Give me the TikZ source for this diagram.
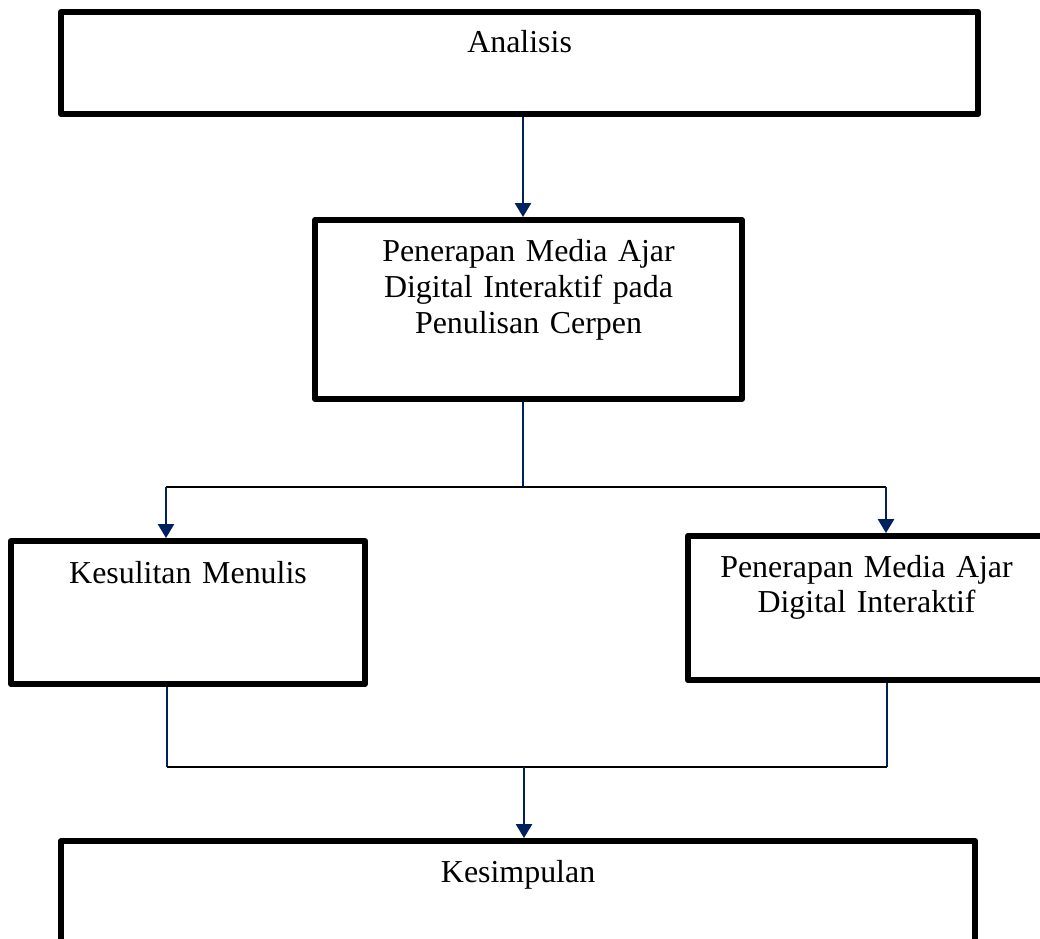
\documentclass[tikz,border=0pt]{standalone}
\usepackage{fontspec}
\setmainfont{Liberation Serif}
\definecolor{FlowNavy}{HTML}{002060}
\usetikzlibrary{arrows.meta, positioning}

\begin{document}
\begin{tikzpicture}[x=0.025cm, y=-0.025cm,
   box/.style={draw, line width=4.25pt, line join=round, anchor=north west,
      inner sep=0pt, align=center, font=\fontsize{22.7}{25.5}\selectfont},
   link/.style={FlowNavy, line width=1pt},
   hline/.style={black, line width=1pt},
   flow/.style={link, -{Triangle[width=11.5pt, length=9.8pt]}}]
   \path[use as bounding box, fill=white] (0,0) rectangle (1040,939);
   % Boxes
   \node[box, text width=22.925cm, text height=1.025cm, text depth=1.525cm] (analisis) at (58,9) {Analisis};
   \node[box, text width=10.675cm, text height=1.05cm, text depth=3.425cm] (media) at (312,217)
      {Penerapan Media Ajar\\ Digital Interaktif pada\\ Penulisan Cerpen};
   \node[box, text width=8.85cm, text height=1.05cm, text depth=2.525cm] (kesulitan) at (8,538) {Kesulitan Menulis};
   \node[box, text width=8.925cm, text height=1.025cm, text depth=2.575cm] (penerapan) at (685,533)
      {Penerapan Media Ajar\\ Digital Interaktif};
   \node[box, text width=22.85cm, text height=1.025cm, text depth=2.475cm] (kesimpulan) at (58,838) {Kesimpulan};
   % Branch points
   \coordinate (split) at (523,487);
   \coordinate (split-l) at (166,487);
   \coordinate (split-r) at (886,487);
   \coordinate (merge) at (524,767);
   \coordinate (merge-l) at (167,767);
   \coordinate (merge-r) at (887,767);
   % Analisis to media
   \draw[flow] (analisis.south -| split) -- (media.north -| split);
   % Split into two branches
   \draw[link] (media.south -| split) -- (split);
   \draw[hline] (split-l) -- (split-r);
   \draw[flow] (split-l) -- (kesulitan.north -| split-l);
   \draw[flow] (split-r) -- (penerapan.north -| split-r);
   % Merge into Kesimpulan
   \draw[link] (kesulitan.south -| merge-l) -- (merge-l);
   \draw[link] (penerapan.south -| merge-r) -- (merge-r);
   \draw[hline] (merge-l) -- (merge-r);
   \draw[flow] (merge) -- (kesimpulan.north -| merge);
\end{tikzpicture}
\end{document}
